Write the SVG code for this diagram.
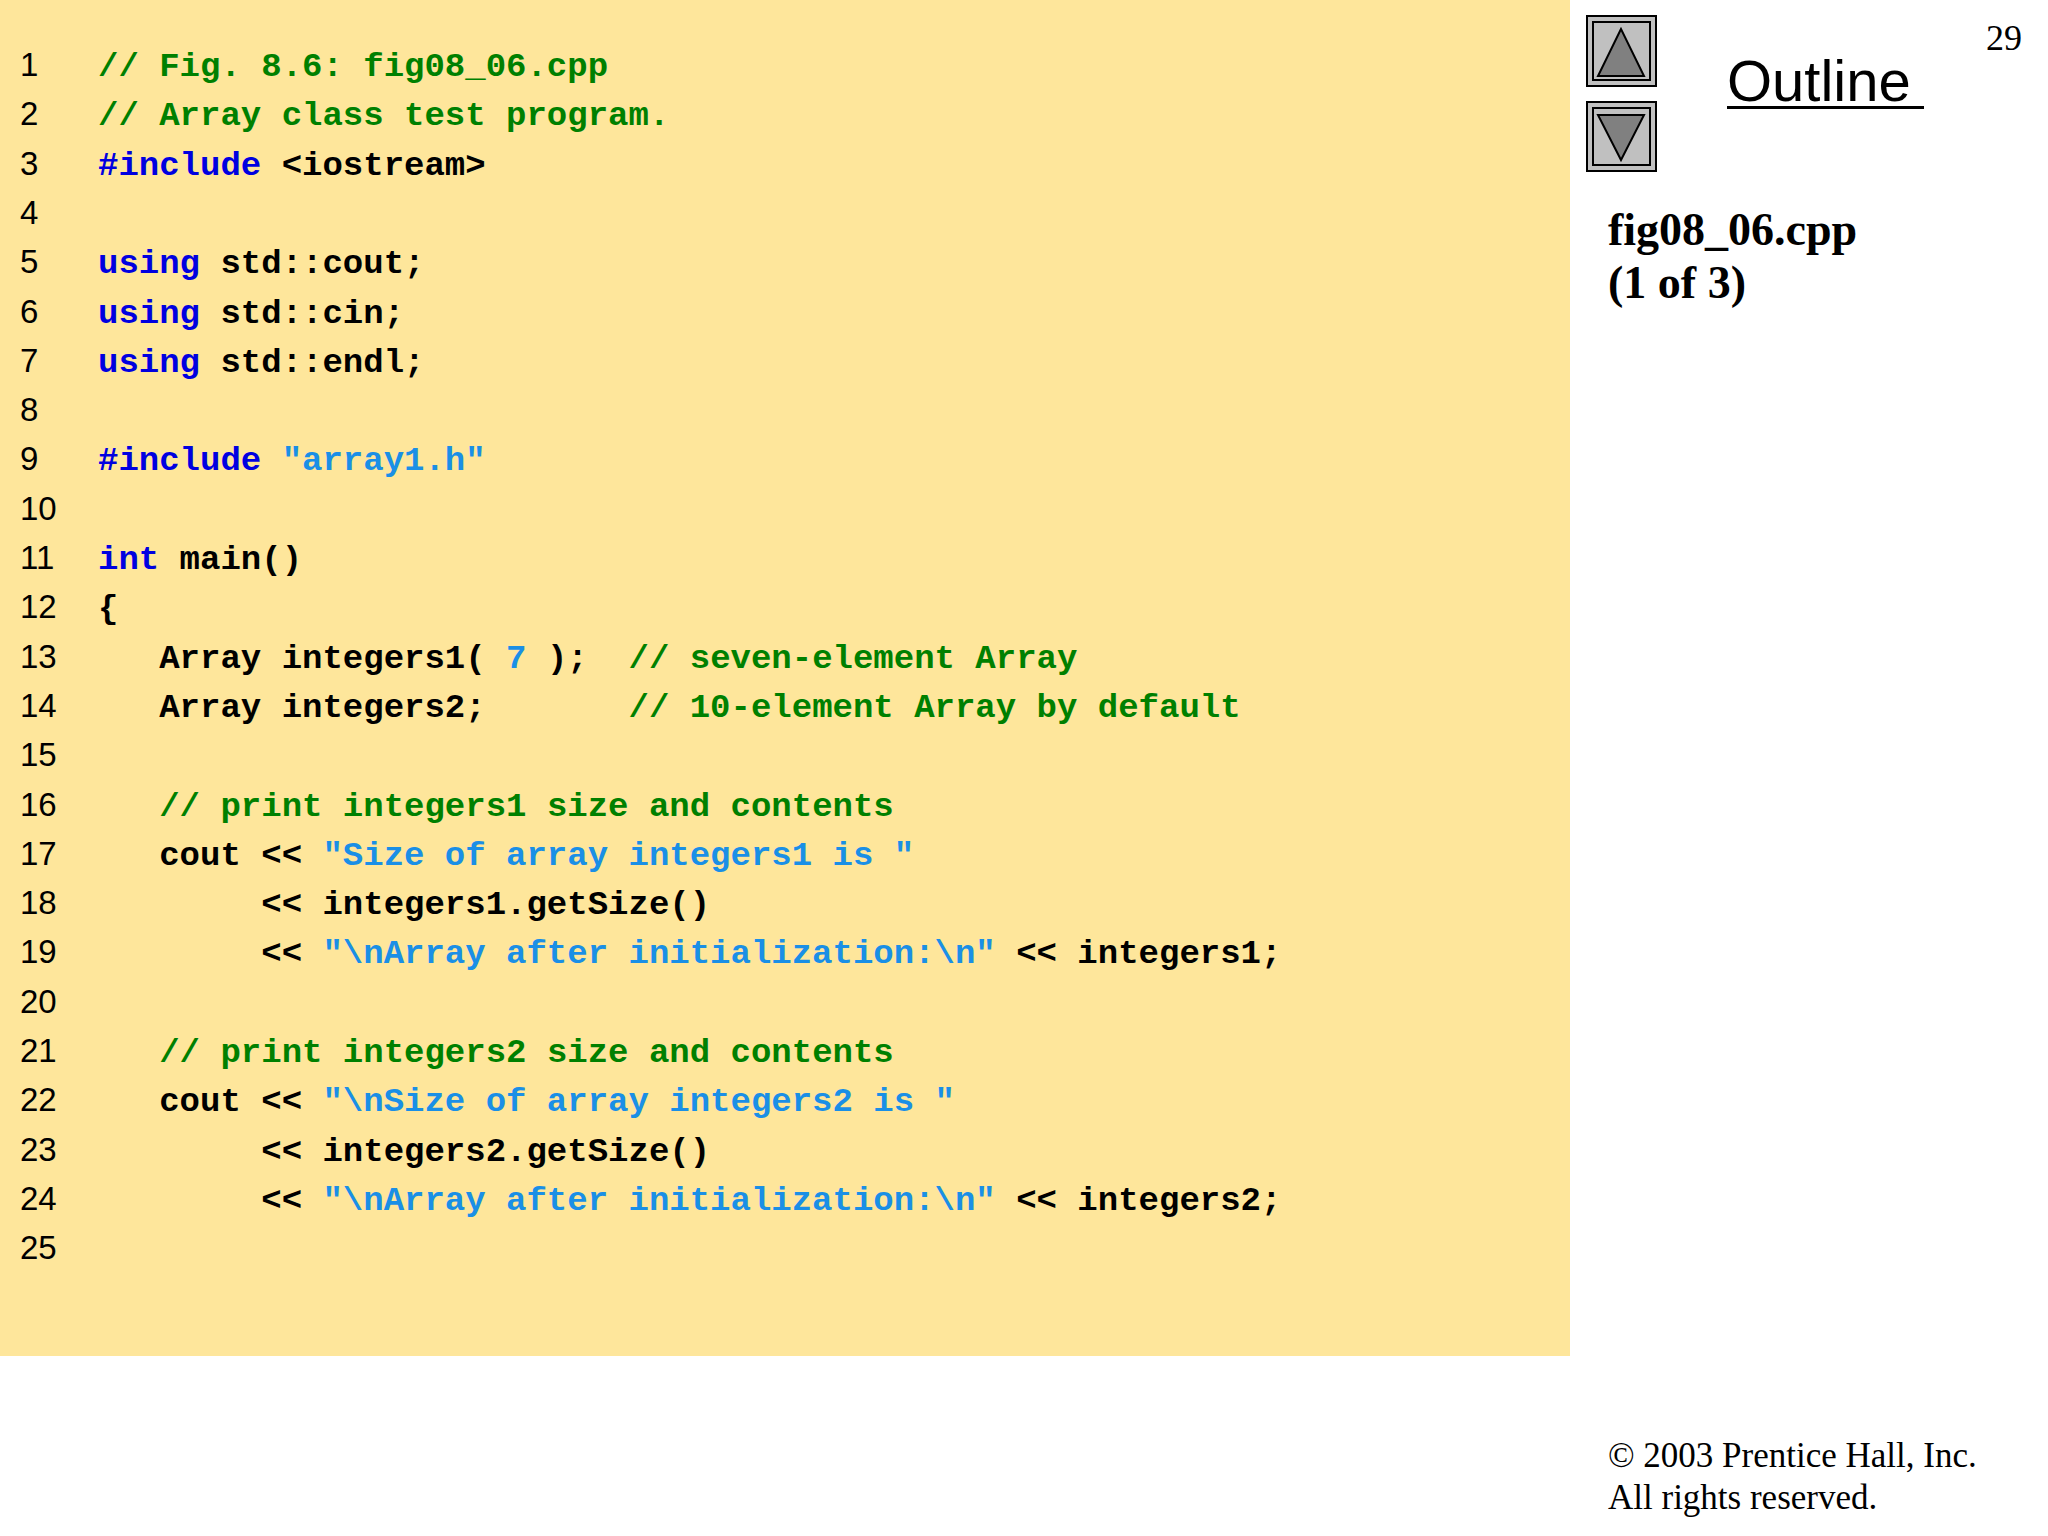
<svg xmlns="http://www.w3.org/2000/svg" width="2048" height="1536" viewBox="0 0 2048 1536">
<style>
.code{font-family:"Liberation Mono",monospace;font-size:34px;font-weight:bold;fill:#000;white-space:pre}
.num{font-family:"Liberation Sans",sans-serif;font-size:33px;fill:#000}
.c{fill:#008000}.k{fill:#0000e0}.s{fill:#1a8fe6}
.btn{fill:#c0c0c0;stroke:#000;stroke-width:2}
.tri{fill:#808080;stroke:#000;stroke-width:2}
.serif{font-family:"Liberation Serif",serif;fill:#000}
</style>
<rect width="2048" height="1536" fill="#fff"/>
<rect x="0" y="0" width="1570" height="1356" fill="#fee69b"/>
<g id="nums" class="num">
<text x="20" y="76">1</text><text x="20" y="125">2</text><text x="20" y="175">3</text><text x="20" y="224">4</text><text x="20" y="273">5</text><text x="20" y="323">6</text><text x="20" y="372">7</text><text x="20" y="421">8</text><text x="20" y="470">9</text><text x="20" y="520">10</text><text x="20" y="569">11</text><text x="20" y="618">12</text><text x="20" y="668">13</text><text x="20" y="717">14</text><text x="20" y="766">15</text><text x="20" y="816">16</text><text x="20" y="865">17</text><text x="20" y="914">18</text><text x="20" y="963">19</text><text x="20" y="1013">20</text><text x="20" y="1062">21</text><text x="20" y="1111">22</text><text x="20" y="1161">23</text><text x="20" y="1210">24</text><text x="20" y="1259">25</text>
</g>
<g id="code" class="code">
<text xml:space="preserve" x="98" y="76"><tspan class="c">// Fig. 8.6: fig08_06.cpp</tspan></text>
<text xml:space="preserve" x="98" y="125"><tspan class="c">// Array class test program.</tspan></text>
<text xml:space="preserve" x="98" y="175"><tspan class="k">#include</tspan> &lt;iostream&gt;</text>
<text xml:space="preserve" x="98" y="273"><tspan class="k">using</tspan> std::cout;</text>
<text xml:space="preserve" x="98" y="323"><tspan class="k">using</tspan> std::cin;</text>
<text xml:space="preserve" x="98" y="372"><tspan class="k">using</tspan> std::endl;</text>
<text xml:space="preserve" x="98" y="470"><tspan class="k">#include</tspan> <tspan class="s">"array1.h"</tspan></text>
<text xml:space="preserve" x="98" y="569"><tspan class="k">int</tspan> main()</text>
<text xml:space="preserve" x="98" y="618">{</text>
<text xml:space="preserve" x="98" y="668">   Array integers1( <tspan class="s">7</tspan> );  <tspan class="c">// seven-element Array</tspan></text>
<text xml:space="preserve" x="98" y="717">   Array integers2;       <tspan class="c">// 10-element Array by default</tspan></text>
<text xml:space="preserve" x="98" y="816">   <tspan class="c">// print integers1 size and contents</tspan></text>
<text xml:space="preserve" x="98" y="865">   cout &lt;&lt; <tspan class="s">"Size of array integers1 is "</tspan></text>
<text xml:space="preserve" x="98" y="914">        &lt;&lt; integers1.getSize()</text>
<text xml:space="preserve" x="98" y="963">        &lt;&lt; <tspan class="s">"\nArray after initialization:\n"</tspan> &lt;&lt; integers1;</text>
<text xml:space="preserve" x="98" y="1062">   <tspan class="c">// print integers2 size and contents</tspan></text>
<text xml:space="preserve" x="98" y="1111">   cout &lt;&lt; <tspan class="s">"\nSize of array integers2 is "</tspan></text>
<text xml:space="preserve" x="98" y="1161">        &lt;&lt; integers2.getSize()</text>
<text xml:space="preserve" x="98" y="1210">        &lt;&lt; <tspan class="s">"\nArray after initialization:\n"</tspan> &lt;&lt; integers2;</text>
</g>
<g id="up">
<rect class="btn" x="1587" y="16" width="69" height="70"/>
<rect x="1593" y="22" width="57" height="58" fill="none" stroke="#000" stroke-width="2"/>
<polygon class="tri" points="1621,29 1598,76 1644,76"/>
</g>
<g id="down">
<rect class="btn" x="1587" y="102" width="69" height="69"/>
<rect x="1593" y="108" width="57" height="57" fill="none" stroke="#000" stroke-width="2"/>
<polygon class="tri" points="1598,115 1644,115 1621,160"/>
</g>
<g id="outline">
<text x="1727" y="101" font-family="'Liberation Sans',sans-serif" font-size="58" fill="#000">Outline</text>
<rect x="1727" y="106" width="197" height="3" fill="#000"/>
</g>
<text class="serif" x="1986" y="50" font-size="36">29</text>
<g id="title" class="serif" font-weight="bold" font-size="46">
<text x="1608" y="245">fig08_06.cpp</text>
<text x="1608" y="298">(1 of 3)</text>
</g>
<g id="copyright" class="serif" font-size="35">
<text x="1608" y="1467">© 2003 Prentice Hall, Inc.</text>
<text x="1608" y="1509">All rights reserved.</text>
</g>
</svg>
